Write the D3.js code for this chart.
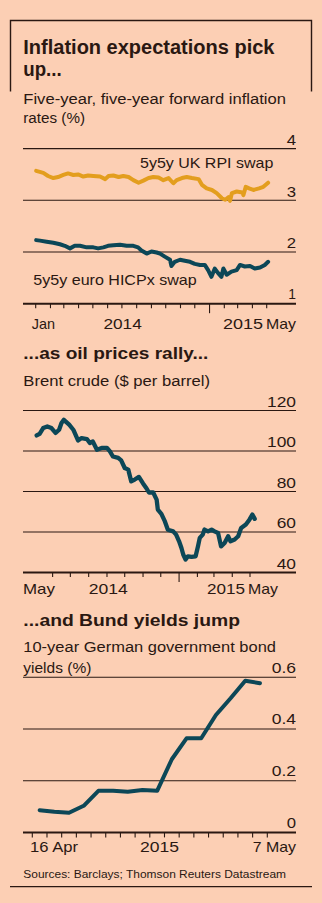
<!DOCTYPE html>
<html><head><meta charset="utf-8">
<script src="https://cdn.jsdelivr.net/npm/d3@7"></script>
<style>
html,body{margin:0;padding:0;background:#fccfb4;}
svg{display:block;}
text{font-family:"Liberation Sans",Arial,sans-serif;fill:#2a1812;}
</style></head><body>
<svg id="c" width="322" height="903"></svg>
<script>
// ---------- DATA ----------
const rpiDates = ["2014-01-02","2014-01-17","2014-01-27","2014-02-07","2014-02-17","2014-02-28","2014-03-10","2014-03-21","2014-03-31","2014-04-11","2014-04-21","2014-05-02","2014-05-16","2014-05-27","2014-06-03","2014-06-13","2014-06-24","2014-07-04","2014-07-15","2014-07-25","2014-08-05","2014-08-15","2014-08-26","2014-09-05","2014-09-16","2014-09-26","2014-10-07","2014-10-17","2014-10-24","2014-11-04","2014-11-14","2014-11-25","2014-12-09","2014-12-16","2014-12-26","2015-01-06","2015-01-16","2015-01-27","2015-02-03","2015-02-10","2015-02-13","2015-02-17","2015-02-27","2015-03-11","2015-03-13","2015-03-18","2015-03-25","2015-04-03","2015-04-15","2015-04-24","2015-05-04"];
const rpiValues = [3.57,3.53,3.47,3.43,3.45,3.49,3.52,3.49,3.50,3.46,3.48,3.47,3.46,3.41,3.47,3.48,3.45,3.47,3.45,3.39,3.34,3.38,3.43,3.45,3.44,3.39,3.43,3.33,3.39,3.43,3.45,3.43,3.41,3.30,3.23,3.20,3.14,3.04,3.01,3.06,2.99,3.14,3.17,3.15,3.10,3.26,3.23,3.20,3.23,3.26,3.34];

const hicpDates = ["2014-01-02","2014-01-10","2014-01-24","2014-02-07","2014-02-21","2014-03-03","2014-03-14","2014-03-24","2014-04-04","2014-04-18","2014-05-02","2014-05-12","2014-05-23","2014-06-02","2014-06-13","2014-06-27","2014-07-11","2014-07-25","2014-08-04","2014-08-11","2014-08-22","2014-09-01","2014-09-12","2014-09-19","2014-09-29","2014-10-10","2014-10-13","2014-10-20","2014-10-31","2014-11-10","2014-11-21","2014-12-01","2014-12-12","2014-12-22","2014-12-29","2015-01-05","2015-01-12","2015-01-19","2015-01-26","2015-01-30","2015-02-06","2015-02-16","2015-02-27","2015-03-06","2015-03-16","2015-03-27","2015-04-06","2015-04-17","2015-04-27","2015-05-04"];
const hicpValues = [2.23,2.22,2.20,2.18,2.15,2.12,2.07,2.12,2.12,2.09,2.09,2.07,2.09,2.12,2.13,2.14,2.12,2.12,2.09,2.03,1.97,2.01,1.99,1.97,1.91,1.85,1.73,1.81,1.85,1.83,1.81,1.77,1.75,1.75,1.65,1.52,1.68,1.59,1.52,1.68,1.56,1.62,1.65,1.75,1.72,1.73,1.68,1.70,1.75,1.81];

const brentDates = ["2014-05-05","2014-05-10","2014-05-16","2014-05-23","2014-05-30","2014-06-06","2014-06-12","2014-06-16","2014-06-20","2014-06-29","2014-07-06","2014-07-14","2014-07-20","2014-07-29","2014-08-03","2014-08-08","2014-08-15","2014-08-23","2014-09-01","2014-09-06","2014-09-11","2014-09-20","2014-09-25","2014-10-01","2014-10-07","2014-10-12","2014-10-18","2014-10-25","2014-11-01","2014-11-07","2014-11-11","2014-11-18","2014-11-24","2014-11-26","2014-12-02","2014-12-08","2014-12-13","2014-12-22","2014-12-27","2015-01-01","2015-01-05","2015-01-08","2015-01-12","2015-01-16","2015-01-22","2015-01-29","2015-02-02","2015-02-05","2015-02-10","2015-02-13","2015-02-19","2015-02-25","2015-03-02","2015-03-08","2015-03-13","2015-03-19","2015-03-25","2015-03-29","2015-04-05","2015-04-11","2015-04-16","2015-04-24","2015-04-30","2015-05-05","2015-05-09"];
const brentValues = [107.7,108.5,111.3,112.1,111.3,108.9,110.5,113.8,115.4,113.0,110.5,105.2,106.4,105.9,103.9,104.7,100.6,101.5,101.5,99.8,97.3,96.6,95.4,91.6,90.8,85.0,85.9,87.2,84.0,81.5,79.5,79.6,76.0,71.1,69.0,65.2,61.1,60.3,58.7,55.4,52.1,48.9,46.4,48.0,47.7,48.0,53.0,57.1,58.7,61.2,60.3,61.2,60.3,59.5,52.9,54.6,57.9,55.4,56.3,57.9,62.0,63.7,66.1,68.6,66.5];

const bundDates = ["2015-04-16","2015-04-17","2015-04-20","2015-04-21","2015-04-22","2015-04-23","2015-04-24","2015-04-27","2015-04-28","2015-04-29","2015-04-30","2015-05-01","2015-05-04","2015-05-05","2015-05-06","2015-05-07"];
const bundValues = [0.086,0.080,0.076,0.103,0.161,0.161,0.157,0.164,0.161,0.283,0.364,0.364,0.454,0.519,0.587,0.577];

const inflTicks = [1,2,3,4];
const oilTicks = [40,60,80,100,120];
const bundTicks = [0,0.2,0.4,0.6];
const inflXLabels = ["Jan","2014","2015","May"];
const oilXLabels = ["May","2014","2015","May"];
const bundXLabels = ["16 Apr","2015","7 May"];
const seriesNames = ["5y5y UK RPI swap","5y5y euro HICPx swap"];

// ---------- SETUP ----------
const INK = "#2a1812", ORANGE = "#e39e1e", TEAL = "#0c4757";
const svg = d3.select("#c");
const parse = d3.utcParse("%Y-%m-%d");
const L = 23, R = 296;

function fit(sel, width) {
  const w = sel.node().getComputedTextLength();
  if (Math.abs(w - width) / width > 0.015) {
    sel.attr("textLength", width).attr("lengthAdjust", "spacingAndGlyphs");
  }
}
function txt(s, x, y, o) {
  o = o || {};
  const t = svg.append("text").text(s).attr("x", x).attr("y", y)
    .attr("font-size", o.size || 15)
    .attr("font-weight", o.bold ? 700 : 400)
    .attr("text-anchor", o.anchor || "start");
  if (o.width) fit(t, o.width);
  return t;
}
// one text element, several lines (tspans)
function block(lines, x, ys, widths, o) {
  const t = svg.append("text")
    .attr("font-size", o.size).attr("font-weight", o.bold ? 700 : 400);
  lines.forEach((s, i) => {
    const ts = t.append("tspan").text(s).attr("x", x).attr("y", ys[i]);
    fit(ts, widths[i]);
  });
  return t;
}
function hline(y, w) {
  svg.append("line").attr("x1", L).attr("x2", R).attr("y1", y).attr("y2", y)
    .attr("stroke", INK).attr("stroke-width", w);
}
function tick(x, y, len) {
  svg.append("line").attr("x1", x).attr("x2", x).attr("y1", y).attr("y2", y + len)
    .attr("stroke", INK).attr("stroke-width", 1.1);
}
function path(xs, ys, xf, yf, color, w) {
  const line = d3.line().x((d, i) => xf(xs[i])).y((d, i) => yf(ys[i]));
  svg.append("path").datum(ys).attr("d", line).attr("fill", "none")
    .attr("stroke", color).attr("stroke-width", w)
    .attr("stroke-linejoin", "round").attr("stroke-linecap", "round");
}

// ---------- HEADER ----------
svg.append("path").attr("d", "M10.5,91.5 V20.5 H311.5 V91.5").attr("fill", "none")
  .attr("stroke", INK).attr("stroke-width", 1.4);
block(["Inflation expectations pick", "up..."], 23.3, [53.5, 76], [248.7, 38.4], {size: 20, bold: true});
block(["Five-year, five-year forward inflation", "rates (%)"], 23.3, [103.5, 122.5], [262.7, 61.7], {size: 15.5});

// ---------- CHART 1 ----------
{
  const x = d3.scaleUtc().domain([parse("2014-01-01"), parse("2015-05-01")]).range([35.7, 266.7]);
  const y = d3.scaleLinear().domain([1, 4]).range([303.7, 148.6]);
  inflTicks.forEach(v => {
    const base = v === inflTicks[0];
    hline(y(v), base ? 2 : 1.1);
    txt(String(v), R, y(v) - (base ? 5 : 3.8), {size: 15, anchor: "end", width: v === 1 ? 7.7 : 9.3});
  });
  d3.utcMonth.range(parse("2014-01-01"), parse("2015-05-02")).forEach(d => {
    const major = d.getUTCMonth() === 0 && d.getUTCFullYear() === 2015;
    tick(x(d), y(1), major ? 9.5 : 4.5);
  });
  path(rpiDates.map(parse), rpiValues, x, y, ORANGE, 4);
  path(hicpDates.map(parse), hicpValues, x, y, TEAL, 4);
  txt(seriesNames[0], 140, 168.3, {size: 15, width: 133.3});
  txt(seriesNames[1], 33.3, 285, {size: 15, width: 163.4});
  const j14 = x(parse("2014-01-01")), j15 = x(parse("2015-01-01")), m15 = x(parse("2015-05-01"));
  txt(inflXLabels[0], j14 - 4, 329, {size: 15, width: 23.3});
  txt(inflXLabels[1], (j14 + j15) / 2, 329, {size: 15, anchor: "middle", width: 38.4});
  txt(inflXLabels[2], m15 - 3.7, 329, {size: 15, anchor: "end", width: 40});
  txt(inflXLabels[3], R, 329, {size: 15, anchor: "end", width: 30});
}

// ---------- CHART 2 ----------
txt("...as oil prices rally...", 23.3, 359.3, {size: 17, bold: true, width: 185});
txt("Brent crude ($ per barrel)", 23.3, 386, {size: 15.5, width: 186.7});
{
  const x = d3.scaleUtc().domain([parse("2014-05-01"), parse("2015-05-01")]).range([34.3, 250]);
  const y = d3.scaleLinear().domain([40, 120]).range([572.5, 410.5]);
  oilTicks.forEach(v => {
    const base = v === oilTicks[0];
    hline(y(v), base ? 2 : 1.1);
    txt(String(v), R, y(v) - 4, {size: 15, anchor: "end", width: v >= 100 ? 29 : 19.3});
  });
  d3.utcMonth.range(parse("2014-06-01"), parse("2015-05-02")).forEach(d => {
    const major = d.getUTCMonth() === 0;
    tick(x(d), y(40), major ? 9.5 : 4.5);
  });
  path(brentDates.map(parse), brentValues, x, y, TEAL, 4.3);
  const m14 = x(parse("2014-05-01")), j15 = x(parse("2015-01-01")), m15 = x(parse("2015-05-01"));
  txt(oilXLabels[0], 23, 594, {size: 15, width: 32});
  txt(oilXLabels[1], (m14 + j15) / 2 + 1.5, 594, {size: 15, anchor: "middle", width: 39});
  txt(oilXLabels[2], m15 - 5, 594, {size: 15, anchor: "end", width: 38});
  txt(oilXLabels[3], m15 - 2, 594, {size: 15, width: 30});
}

// ---------- CHART 3 ----------
txt("...and Bund yields jump", 23.3, 625.7, {size: 17, bold: true, width: 216.7});
block(["10-year German government bond", "yields (%)"], 23.3, [651.7, 672.5], [252.7, 67.4], {size: 15.5});
{
  const x = d3.scaleBand().domain(bundDates).range([32.3, 267.3]);
  const y = d3.scaleLinear().domain([0, 0.6]).range([832.4, 677.3]);
  bundTicks.forEach(v => {
    const base = v === bundTicks[0];
    hline(y(v), base ? 2 : 1.1);
    txt(v === 0 ? "0" : d3.format(".1f")(v), R, y(v) - (base ? 4 : 4.6), {size: 15, anchor: "end", width: base ? 9.3 : 24.3});
  });
  bundDates.forEach(d => tick(x(d), y(0), 5));
  tick(x(bundDates[bundDates.length - 1]) + x.bandwidth(), y(0), 5);
  path(bundDates, bundValues, d => x(d) + x.bandwidth() / 2, y, TEAL, 4);
  txt(bundXLabels[0], 30, 852, {size: 15, width: 48});
  txt(bundXLabels[1], x(bundDates[8]) + x.bandwidth() * 0.66, 852, {size: 15, anchor: "middle", width: 39});
  txt(bundXLabels[2], R, 852, {size: 15, anchor: "end", width: 43.3});
}

// ---------- FOOTER ----------
txt("Sources: Barclays; Thomson Reuters Datastream", 23.3, 877.7, {size: 11, width: 262.7});
svg.append("line").attr("x1", 10).attr("x2", 312).attr("y1", 886.7).attr("y2", 886.7)
  .attr("stroke", INK).attr("stroke-width", 1.3);
</script>
</body></html>
